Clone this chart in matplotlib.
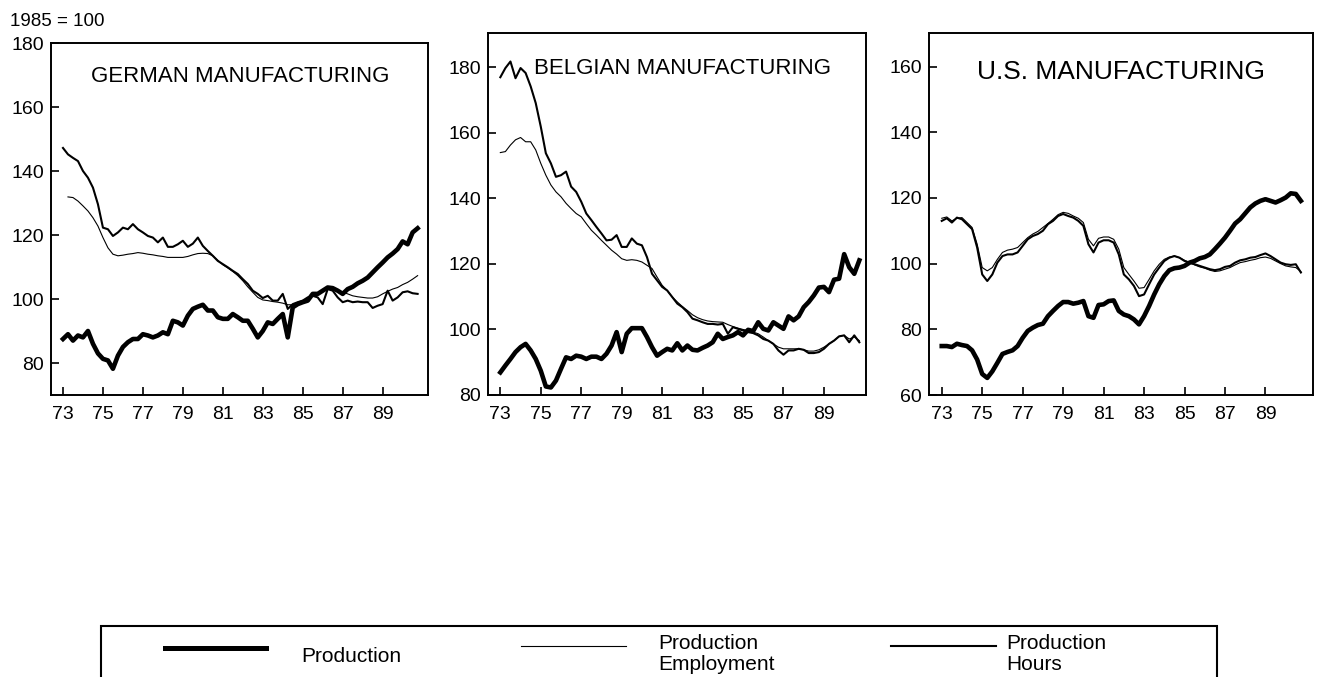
import numpy as np
import matplotlib.pyplot as plt
from matplotlib.lines import Line2D
from matplotlib.patches import Rectangle

plt.rcParams['font.family'] = ['Liberation Sans', 'DejaVu Sans']

# Quarterly time axis, 1973Q1 .. 1990Q4 (years written as 73, 74, ...)
Time = 73 + 0.25*np.arange(72)

#---------------------------------------------------------------------
# German manufacturing, 1985 = 100
ger_prod = [87.5, 89, 87, 88.6,   88, 90, 86, 83,   81.3, 80.8, 78.2, 82.3,
            85, 86.5, 87.5, 87.5,   89, 88.6, 88, 88.6,   89.6, 89, 93.2, 92.7,
            91.7, 94.8, 96.9, 97.6,   98.2, 96.4, 96.4, 94.3,   93.8, 93.8, 95.3, 94.3,
            93.2, 93.2, 90.7, 88,   90, 92.7, 92.2, 93.8,   95.3, 88, 97.4, 98.4,
            99, 99.5, 101.6, 101.6,   102.6, 103.6, 103.4, 102.6,   101.6, 103.1, 103.8, 104.9,
            105.7, 106.7, 108.3, 109.9,   111.4, 113, 114.2, 115.6,   118, 117.1, 120.8, 122.1]
ger_hours = [147.2, 145.2, 144.1, 143.1,   140, 137.9, 134.8, 129.6,   122.3, 121.8, 119.7, 120.8,
             122.3, 121.8, 123.4, 121.8,   120.8, 119.7, 119.2, 117.7,   119.2, 116.3, 116.3, 117.1,
             118.2, 116.3, 117.3, 119.2,   116.6, 115, 113.5, 111.9,   110.9, 109.9, 108.8, 107.8,
             106.2, 104.7, 102.6, 101.6,   100.3, 101, 99.5, 99.5,   101.6, 96.9, 98.4, 99,
             99.5, 100.5, 101, 100.5,   98.4, 103.1, 102.6, 100.5,   99, 99.5, 99, 99.2,
             99, 99, 97.2, 97.9,   98.4, 102.6, 99.5, 100.5,   102.1, 102.4, 101.8, 101.6]
ger_empl = [np.nan, 131.9, 131.7, 130.6,   129.1, 127.5, 125.4, 122.8,   119.2, 116, 114, 113.5,
            113.7, 114, 114.2, 114.5,   114.3, 114, 113.8, 113.5,   113.3, 113, 113, 113,
            113, 113.3, 113.8, 114.2,   114.3, 114.2, 113.5, 112.1,   110.7, 109.7, 108.6, 107.3,
            105.7, 103.8, 102.1, 100.5,   99.7, 99.5, 99.2, 99,   98.7, 98.2, 98.2, 98.7,
            99.2, 100, 101, 101.6,   102.6, 103.4, 103.4, 102.8,   102.1, 101.6, 101, 100.7,
            100.5, 100.3, 100.3, 100.7,   101.6, 102.4, 103.1, 103.6,   104.5, 105.2, 106.2, 107.3]

#---------------------------------------------------------------------
# Belgian manufacturing
bel_prod = [86.9, 89, 91, 93.1,   94.6, 95.6, 93.6, 91,   87.4, 82.6, 82.3, 84.4,
            88, 91.5, 91, 92,   91.7, 91, 91.7, 91.7,   91, 92.6, 95.1, 99.2,
            93.1, 98.7, 100.4, 100.4,   100.4, 97.7, 94.6, 92,   93.1, 94.1, 93.6, 95.8,
            93.6, 95.1, 93.8, 93.6,   94.4, 95.1, 96.1, 98.7,   97.1, 97.7, 98.2, 99.2,
            98.2, 99.9, 99.5, 102.2,   100.2, 99.7, 102.2, 101.2,   100.2, 104, 102.8, 104,
            106.8, 108.4, 110.4, 112.8,   113, 111.4, 115.2, 115.5,   123, 119, 117, 121.1]
bel_hours = [177, 179.8, 181.8, 176.7,   179.8, 178.3, 174.2, 169.1,   161.9, 153.8, 150.7, 146.6,
             147.1, 148.2, 143.6, 142,   139, 135.4, 133.4, 131.3,   129.3, 127.2, 127.4, 128.8,
             125.2, 125.2, 127.8, 126.2,   125.7, 122.1, 117, 115,   113, 111.9, 109.9, 107.9,
             106.8, 105.3, 103.3, 102.8,   102.2, 101.7, 101.7, 101.5,   101.7, 98.7, 100.7, 100.2,
             99.7, 99.2, 98.9, 98.2,   97.1, 96.6, 95.6, 93.6,   92.3, 93.6, 93.6, 94.1,
             93.8, 92.8, 92.8, 93.1,   94.1, 95.6, 96.6, 97.9,   98.2, 96.1, 98.2, 96.1]
bel_empl = [154, 154.3, 156.3, 157.9,   158.6, 157.3, 157.3, 154.8,   150.7, 147.1, 144.1, 142,
            140.5, 138.5, 136.9, 135.4,   134.4, 132.3, 130.3, 128.8,   127.2, 125.7, 124.2, 123,
            121.6, 121.1, 121.3, 121.1,   120.6, 119.6, 118.6, 116,   113.5, 111.9, 109.9, 108.4,
            107, 105.8, 104.5, 103.6,   103, 102.6, 102.4, 102.3,   102.2, 101.5, 100.9, 100.4,
            100, 99.7, 99.2, 98.7,   97.7, 96.6, 95.6, 94.6,   94.1, 94.1, 94.1, 94.1,
            93.8, 93.4, 93.4, 93.8,   94.6, 95.6, 96.6, 97.9,   98.2, 97.1, 97.7, 96.6]

#---------------------------------------------------------------------
# U.S. manufacturing
us_prod = [74.9, 74.9, 74.6, 75.6,   75.2, 74.9, 73.6, 70.8,   66.4, 65.2, 67.2, 69.8,
           72.5, 73.1, 73.6, 74.9,   77.4, 79.5, 80.5, 81.3,   81.7, 84, 85.6, 87.1,
           88.3, 88.3, 87.8, 88.1,   88.6, 84, 83.5, 87.4,   87.6, 88.6, 88.8, 85.6,
           84.5, 84, 83, 81.5,   84, 87.1, 90.6, 93.7,   96.2, 98, 98.6, 98.8,
           99.3, 100.3, 100.8, 101.6,   102, 102.8, 104.4, 106.1,   107.9, 110, 112.2, 113.5,
           115.3, 117.1, 118.3, 119.1,   119.6, 119.1, 118.6, 119.3,   120.1, 121.4, 121.2, 119.1]
us_hours = [113, 113.8, 112.5, 114,   113.5, 112, 110.5, 104.9,   96.7, 94.7, 96.7, 100.3,
            102.3, 102.8, 102.8, 103.4,   105.4, 107.4, 108.4, 109,   110, 112, 113, 114.5,
            115.1, 114.5, 114, 113,   111.5, 105.9, 103.4, 106.4,   107.1, 107.1, 106.4, 102.8,
            96.7, 95.2, 93.2, 90.1,   90.6, 93.7, 96.7, 98.8,   100.8, 101.8, 102.3, 101.8,
            100.8, 100.3, 99.8, 99.3,   98.8, 98.3, 98, 98.3,   99, 99.3, 100.3, 101,
            101.3, 101.8, 102, 102.6,   103.1, 102.3, 101.3, 100.3,   99.8, 99.6, 99.8, 97.3]
us_empl = [113.8, 114.2, 113, 113.8,   114, 112.5, 111, 105.9,   98.8, 97.8, 98.8, 101.3,
           103.4, 104.1, 104.4, 104.9,   106.4, 107.9, 109, 109.8,   111, 112.2, 113.5, 114.9,
           115.6, 115.3, 114.5, 113.8,   112.5, 107.4, 105.4, 107.7,   108.1, 108.1, 107.4, 104.4,
           98.8, 96.7, 94.7, 92.5,   92.7, 95.2, 97.8, 99.8,   101.3, 102, 102.3, 101.8,
           101, 100.3, 99.6, 99,   98.6, 98, 97.6, 97.8,   98.3, 98.8, 99.6, 100.3,
           100.6, 101, 101.3, 101.8,   102, 101.6, 100.8, 100,   99.3, 99, 98.8, 97.6]

titles = ['GERMAN MANUFACTURING', 'BELGIAN MANUFACTURING', 'U.S. MANUFACTURING']
x_ticks = [73, 75, 77, 79, 81, 83, 85, 87, 89]
y_ticks = [[80, 100, 120, 140, 160, 180],
           [80, 100, 120, 140, 160, 180],
           [60, 80, 100, 120, 140, 160]]

#---------------------------------------------------------------------
W, H = 1318, 677
fig = plt.figure(figsize=(W/100, H/100), dpi=100)

def px_box(left, top, right, bottom):
    return [left/W, 1 - bottom/H, (right-left)/W, (bottom-top)/H]

boxes = [px_box(51, 43, 428, 395), px_box(488, 33, 866, 395), px_box(929, 33, 1313, 395)]
xlims = [(72.4, 91.27), (72.39, 91.08), (72.37, 91.35)]
ylims = [(70, 180), (80, 190.5), (60, 170.2)]
title_pos = [(240, 76, 16), (683, 69, 16), (1121, 72, 19)]
data = [(ger_prod, ger_empl, ger_hours),
        (bel_prod, bel_empl, bel_hours),
        (us_prod, us_empl, us_hours)]

for i in range(3):
    ax = fig.add_axes(boxes[i])
    prod, empl, hours = data[i]
    ax.plot(Time, empl, 'k', lw=0.8)
    ax.plot(Time, hours, 'k', lw=1.5)
    ax.plot(Time, prod, 'k', lw=3.3, solid_joinstyle='round')
    ax.set_xlim(xlims[i])
    ax.set_ylim(ylims[i])
    ax.set_xticks(x_ticks)
    ax.set_yticks(y_ticks[i])
    ax.tick_params(direction='in', length=6, width=1.2, labelsize=14, colors='k')
    ax.tick_params(axis='x', pad=8)
    ax.tick_params(axis='y', pad=5)
    for sp in ax.spines.values():
        sp.set_linewidth(1.4)
    tx, ty, fs = title_pos[i]
    fig.text(tx/W, 1 - ty/H, titles[i], ha='center', va='center', fontsize=fs)

fig.text(10/W, 1 - 21/H, '1985 = 100', ha='left', va='center', fontsize=13.5)

#----- legend box at the bottom -----
fig.add_artist(Rectangle((101/W, -0.1), (1217-101)/W, 0.1 + (677-626)/H,
                         transform=fig.transFigure, fill=False, lw=1.5, ec='k'))

fig.add_artist(Line2D([165/W, 266/W], [1 - 648/H]*2, color='k', lw=3.6))
fig.text(301/W, 1 - 656/H, 'Production', ha='left', va='center', fontsize=15)

fig.add_artist(Line2D([521/W, 626/W], [1 - 646/H]*2, color='k', lw=0.8))
fig.text(658/W, 1 - 654/H, 'Production\nEmployment', ha='left', va='center',
         fontsize=15, linespacing=1.15)

fig.add_artist(Line2D([891/W, 996/W], [1 - 646/H]*2, color='k', lw=1.5))
fig.text(1006/W, 1 - 654/H, 'Production\nHours', ha='left', va='center',
         fontsize=15, linespacing=1.15)

fig.savefig('out.png', dpi=100)
